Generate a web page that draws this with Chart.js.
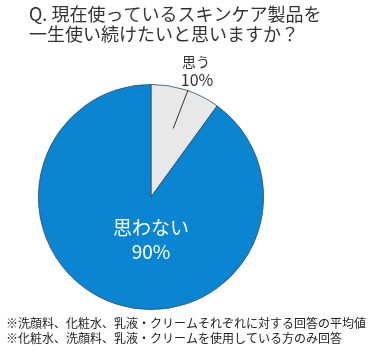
<!DOCTYPE html>
<html>
<head>
<meta charset="utf-8">
<script src="https://cdn.jsdelivr.net/npm/chart.js@4"></script>
<style>
  html, body { margin: 0; padding: 0; background: #fff; }
  #wrap { width: 379px; height: 353px; }
</style>
</head>
<body>
<div id="wrap"><canvas id="chart" width="379" height="353"></canvas></div>
<script>
const categories = ["思う", "思わない"];
const values = [10, 90];
const sliceColors = ["#e8e8e8", "#0a85d2"];
const titleLines = ["Q. 現在使っているスキンケア製品を", "一生使い続けたいと思いますか？"];
const notes = [
  "※洗顔料、化粧水、乳液・クリームそれぞれに対する回答の平均値",
  "※化粧水、洗顔料、乳液・クリームを使用している方のみ回答"
];

const FONT = '"Noto Sans CJK JP", "Noto Sans", sans-serif';

// タイトル・注記・ラベルを描く
const textPlugin = {
  id: 'texts',
  afterDraw(chart) {
    const ctx = chart.ctx;
    ctx.save();
    ctx.fillStyle = '#333';
    ctx.textBaseline = 'middle';
    ctx.textAlign = 'left';
    ctx.font = '18px ' + FONT;
    ctx.fillText(titleLines[0], 29, 14);
    ctx.fillText(titleLines[1], 29, 34);

    ctx.font = '12px ' + FONT;
    ctx.fillStyle = '#222';
    ctx.fillText(notes[0], 6, 323);
    ctx.fillText(notes[1], 6, 338);

    const meta = chart.getDatasetMeta(0);
    // 思う（外側ラベル＋引き出し線）
    const a = meta.data[0];
    const mid = (a.startAngle + a.endAngle) / 2;
    const x1 = a.x + Math.cos(mid) * a.outerRadius * 0.64;
    const y1 = a.y + Math.sin(mid) * a.outerRadius * 0.64;
    ctx.strokeStyle = '#333';
    ctx.lineWidth = 1;
    ctx.beginPath();
    ctx.moveTo(x1, y1);
    ctx.lineTo(188, 90);
    ctx.stroke();
    ctx.textAlign = 'center';
    ctx.font = '14px ' + FONT;
    ctx.fillStyle = '#333';
    ctx.fillText(categories[0], 196, 62);
    ctx.font = '16px ' + FONT;
    ctx.fillText(values[0] + '%', 197, 80);

    // 思わない（内側ラベル）
    const b = meta.data[1];
    ctx.fillStyle = '#fff';
    ctx.font = '19px ' + FONT;
    ctx.fillText(categories[1], b.x, 228);
    ctx.fillText(values[1] + '%', b.x, 252);
    ctx.restore();
  }
};

new Chart(document.getElementById('chart'), {
  type: 'pie',
  data: {
    labels: categories,
    datasets: [{
      data: values,
      backgroundColor: sliceColors,
      borderColor: '#2d4a66',
      borderWidth: 0.8
    }]
  },
  options: {
    responsive: false,
    animation: false,
    layout: { padding: { left: 38, right: 115, top: 84, bottom: 43 } },
    plugins: {
      legend: { display: false },
      tooltip: { enabled: false }
    }
  },
  plugins: [textPlugin]
});
</script>
</body>
</html>
